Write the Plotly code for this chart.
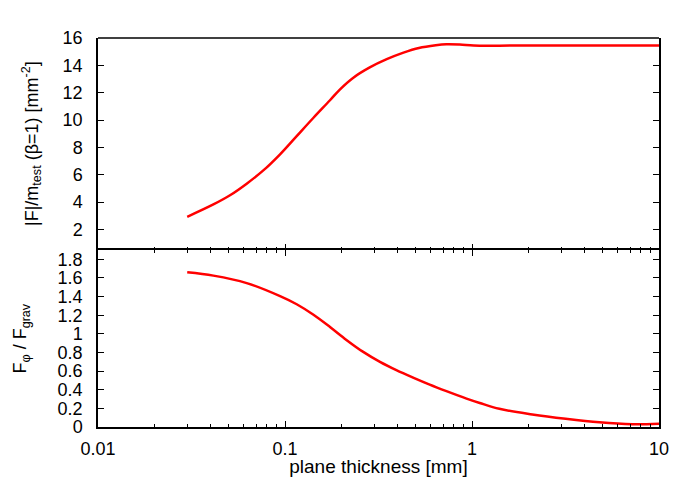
import plotly.graph_objects as go
from plotly.subplots import make_subplots

# plane thickness [mm] and values
thick_top = [0.030, 0.0414, 0.0508, 0.0624, 0.0763, 0.0941, 0.1155, 0.142, 0.174,
             0.197, 0.232, 0.284, 0.35, 0.43, 0.52, 0.64, 0.73, 0.86, 1.02, 1.4,
             2.0, 3.0, 5.0, 7.0, 10.0]
force_top = [2.93, 3.83, 4.5, 5.35, 6.3, 7.5, 8.83, 10.17, 11.45,
             12.25, 13.1, 13.85, 14.45, 14.93, 15.27, 15.47, 15.54, 15.52, 15.45, 15.44,
             15.46, 15.46, 15.45, 15.45, 15.45]

thick_bot = [0.030, 0.0414, 0.0624, 0.0941, 0.1155, 0.142, 0.174, 0.213, 0.262,
             0.322, 0.394, 0.484, 0.594, 0.73, 0.935, 1.1, 1.4, 2.1, 3.17, 4.8,
             7.2, 10.0]
ratio_bot = [1.661, 1.625, 1.545, 1.405, 1.318, 1.205, 1.074, 0.935, 0.806,
             0.699, 0.61, 0.53, 0.455, 0.385, 0.305, 0.258, 0.195, 0.135, 0.088, 0.05,
             0.03, 0.035]

x_ticks = [0.01, 0.1, 1, 10]
x_labels = ["0.01", "0.1", "1", "10"]
x_minor = [m * d for d in (0.01, 0.1, 1) for m in range(2, 10)]

FONT = "Liberation Sans, Arial, sans-serif"
RED = "#ff0000"

fig = make_subplots(rows=2, cols=1, shared_xaxes=True, vertical_spacing=0,
                    row_heights=[0.545, 0.455])

fig.add_trace(go.Scatter(x=thick_top, y=force_top, mode="lines", line_shape="spline",
                         line=dict(color=RED, width=2.5), showlegend=False), row=1, col=1)
fig.add_trace(go.Scatter(x=thick_bot, y=ratio_bot, mode="lines", line_shape="spline",
                         line=dict(color=RED, width=2.5), showlegend=False), row=2, col=1)

axis_common = dict(
    showline=True, linecolor="black", linewidth=1.5, showgrid=False, zeroline=False,
    ticks="inside", ticklen=6, tickwidth=1, tickcolor="black", automargin=False,
    tickfont=dict(family=FONT, size=18, color="black"),
)

fig.update_xaxes(type="log", range=[-2, 1], tickmode="array", tickvals=x_ticks,
                 ticktext=x_labels,
                 minor=dict(tickmode="array", tickvals=x_minor, ticks="inside",
                            ticklen=3, tickwidth=1, tickcolor="black", showgrid=False),
                 **axis_common)
# the shared border line comes from the lower axis only; top one just adds upward ticks
fig.update_xaxes(showline=False, mirror=False, showticklabels=False, row=1, col=1)
fig.update_xaxes(mirror="ticks", ticklabelstandoff=5, row=2, col=1,
                 title=dict(text="plane thickness [mm]", standoff=4,
                            font=dict(family=FONT, size=19, color="black")))

fig.update_yaxes(range=[0.5, 16], dtick=2, tick0=0, mirror="ticks", ticklabelstandoff=10,
                 row=1, col=1, **axis_common)
fig.update_yaxes(range=[0, 1.9], dtick=0.2, tick0=0, mirror="ticks", ticklabelstandoff=10,
                 row=2, col=1, **axis_common)

# y titles as rotated annotations so they can sit where the reference has them
fig.add_annotation(text="|F|/m<sub>test</sub> (β=1) [mm<sup>-2</sup>]", textangle=-90,
                   xref="x domain", yref="y domain", x=0, y=0.5, xshift=-67,
                   xanchor="center", yanchor="middle", showarrow=False,
                   font=dict(family=FONT, size=18, color="black"))
fig.add_annotation(text="F<sub>φ</sub> / F<sub>grav</sub>", textangle=-90,
                   xref="x2 domain", yref="y2 domain", x=0, y=0.5, xshift=-76,
                   xanchor="center", yanchor="middle", showarrow=False,
                   font=dict(family=FONT, size=18, color="black"))

# top border of the upper panel
fig.add_shape(type="line", xref="x domain", yref="y domain", x0=0, x1=1, y0=1, y1=1,
              line=dict(color="black", width=1.5))

# page body keeps its default 8px margin, so the figure is 16px smaller than the window
fig.update_layout(
    width=676, height=469,
    margin=dict(l=90, r=25, t=30, b=50),
    plot_bgcolor="white", paper_bgcolor="white",
    font=dict(family=FONT, size=18, color="black"),
)

fig.write_html("out.html")
